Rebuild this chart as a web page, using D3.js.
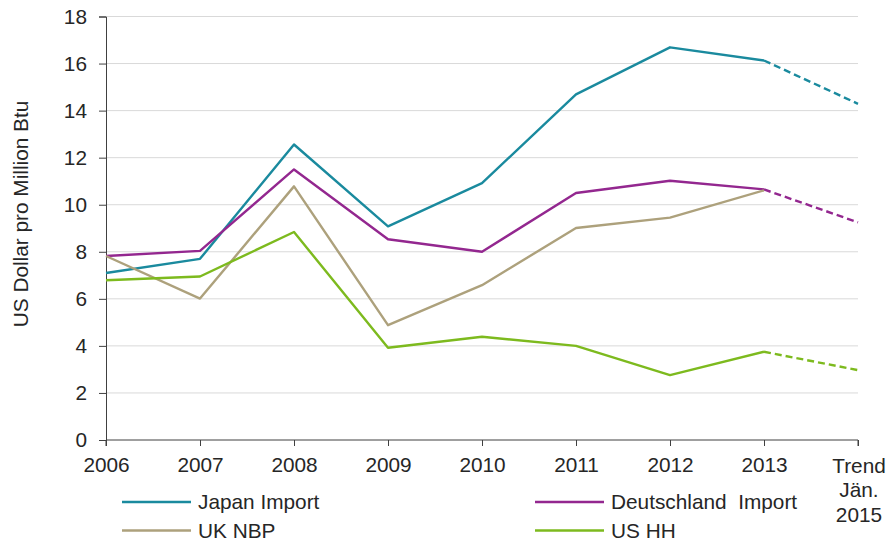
<!DOCTYPE html>
<html>
<head>
<meta charset="utf-8">
<script src="https://cdn.jsdelivr.net/npm/d3@7"></script>
<style>
  html, body { margin: 0; padding: 0; background: #fff; }
  svg { display: block; font-family: "Liberation Sans", Arial, sans-serif; }
</style>
</head>
<body>
<svg id="chart" width="889" height="542"></svg>
<script>
// Categories on the x axis (last one is the Jan 2015 trend point)
const categories = ["2006", "2007", "2008", "2009", "2010", "2011", "2012", "2013", "Trend"];
const trendLabel = ["Trend", "Jän.", "2015"];

// Gas prices, US Dollar pro Million Btu (null = no value)
const japanImport = [7.1, 7.7, 12.56, 9.08, 10.92, 14.69, 16.69, 16.13, 14.29];
const deutschlandImport = [7.82, 8.04, 11.5, 8.53, 8.0, 10.5, 11.02, 10.65, 9.25];
const ukNbp = [7.82, 6.01, 10.78, 4.88, 6.58, 9.01, 9.45, 10.61, null];
const usHh = [6.79, 6.95, 8.84, 3.92, 4.39, 4.0, 2.76, 3.75, 2.97];

const yTicks = [0, 2, 4, 6, 8, 10, 12, 14, 16, 18];

const series = [
  { name: "Japan Import", values: japanImport, color: "#1a8a9e" },
  { name: "Deutschland  Import", values: deutschlandImport, color: "#93278f" },
  { name: "UK NBP", values: ukNbp, color: "#ada17c" },
  { name: "US HH", values: usHh, color: "#7dba1e" }
];

const FS = 20.8;
const TEXT = "#262626";
const AXIS = "#404040";

const svg = d3.select("#chart");
const margin = { left: 106, right: 31, top: 16.5, bottom: 102 };
const W = 889, H = 542;

const x = d3.scalePoint().domain(categories).range([margin.left, W - margin.right]);
const y = d3.scaleLinear().domain([0, 18]).range([H - margin.bottom, margin.top]);

// Horizontal gridlines
svg.append("g")
  .selectAll("line")
  .data(yTicks.filter(d => d > 0))
  .join("line")
  .attr("x1", margin.left)
  .attr("x2", W - margin.right)
  .attr("y1", d => y(d))
  .attr("y2", d => y(d))
  .attr("stroke", "#d9d9d9")
  .attr("stroke-width", 1);

// Y axis
const yAxis = svg.append("g")
  .attr("transform", `translate(${margin.left},0)`)
  .call(d3.axisLeft(y).tickValues(yTicks).tickSize(7).tickPadding(12).tickFormat(d3.format("d")));
yAxis.attr("font-size", FS).attr("font-family", "Liberation Sans, Arial, sans-serif");
yAxis.select(".domain").attr("stroke", AXIS);
yAxis.selectAll(".tick line").attr("stroke", AXIS);
yAxis.selectAll(".tick text").attr("fill", TEXT);

// X axis
const xAxis = svg.append("g")
  .attr("transform", `translate(0,${y(0)})`)
  .call(d3.axisBottom(x).tickSize(6).tickPadding(11).tickFormat(d => d === "Trend" ? "" : d));
xAxis.attr("font-size", FS).attr("font-family", "Liberation Sans, Arial, sans-serif");
xAxis.select(".domain").attr("stroke", AXIS).attr("d", `M${margin.left},6V0H${W - margin.right}V6`);
xAxis.selectAll(".tick line").attr("stroke", AXIS);
xAxis.selectAll(".tick text").attr("fill", TEXT);

// Multi-line label for the trend category
svg.append("g")
  .selectAll("text")
  .data(trendLabel)
  .join("text")
  .attr("x", x("Trend") + 1)
  .attr("y", (d, i) => y(0) + 32.5 + i * 24.5)
  .attr("text-anchor", "middle")
  .attr("font-size", FS)
  .attr("fill", TEXT)
  .text(d => d);

// Y axis title
svg.append("text")
  .attr("transform", `translate(28,214) rotate(-90)`)
  .attr("text-anchor", "middle")
  .attr("font-size", FS)
  .attr("fill", TEXT)
  .text("US Dollar pro Million Btu");

// Lines: solid up to 2013, dashed from 2013 to the trend point
const lastYear = categories.indexOf("2013");
const line = d3.line()
  .defined(d => d.v != null)
  .x(d => x(d.c))
  .y(d => y(d.v));

const lines = svg.append("g");
series.forEach(s => {
  const pts = categories.map((c, i) => ({ c, v: s.values[i], i }));
  lines.append("path")
    .datum(pts.filter(p => p.i <= lastYear))
    .attr("d", line)
    .attr("fill", "none")
    .attr("stroke", s.color)
    .attr("stroke-width", 2.4)
    .attr("stroke-linejoin", "round");
  const tail = pts.filter(p => p.i >= lastYear && p.v != null);
  if (tail.length > 1) {
    lines.append("path")
      .datum(tail)
      .attr("d", line)
      .attr("fill", "none")
      .attr("stroke", s.color)
      .attr("stroke-width", 2.4)
      .attr("stroke-dasharray", "7,4");
  }
});

// Legend (two columns, two rows)
const legendPos = [
  { x: 122, y: 502 },
  { x: 535, y: 502 },
  { x: 122, y: 530.5 },
  { x: 535, y: 530.5 }
];
const legend = svg.append("g");
series.forEach((s, i) => {
  const p = legendPos[i];
  legend.append("line")
    .attr("x1", p.x).attr("x2", p.x + 69)
    .attr("y1", p.y).attr("y2", p.y)
    .attr("stroke", s.color)
    .attr("stroke-width", 2.5);
  legend.append("text")
    .attr("x", p.x + 76)
    .attr("y", p.y + 7)
    .attr("font-size", FS)
    .attr("fill", TEXT)
    .attr("xml:space", "preserve")
    .style("white-space", "pre")
    .text(s.name);
});
</script>
</body>
</html>
